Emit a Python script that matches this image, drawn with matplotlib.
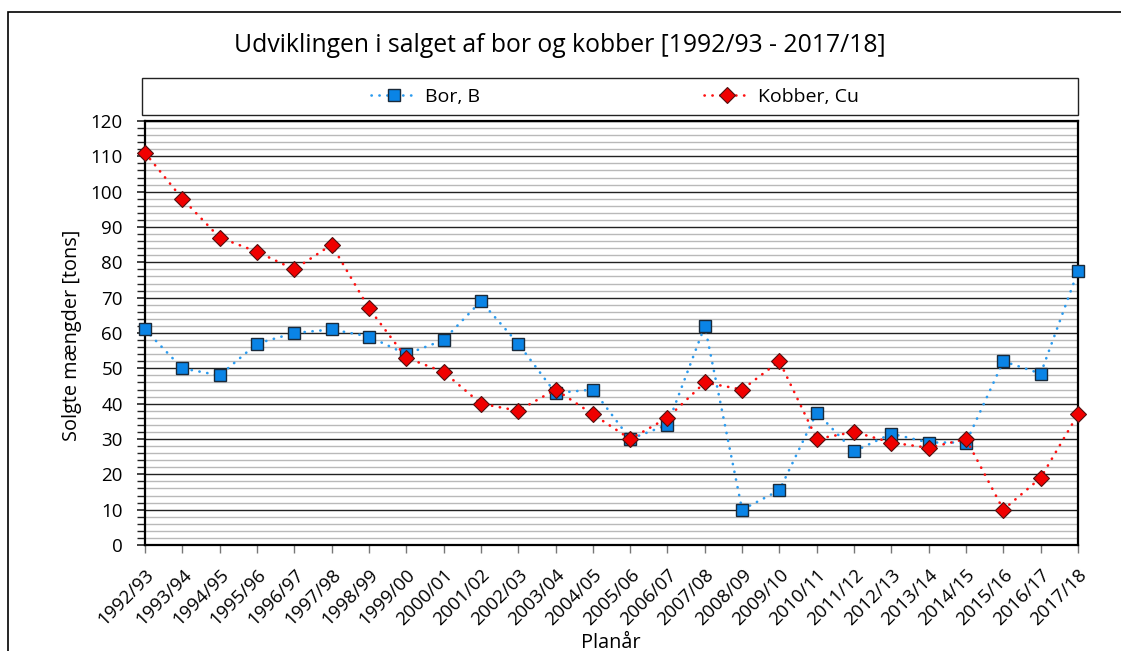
import matplotlib
matplotlib.use("Agg")
import matplotlib.pyplot as plt
from matplotlib.patches import Rectangle
from matplotlib.ticker import MultipleLocator

plt.rcParams['font.family'] = ['Open Sans', 'DejaVu Sans']

years = ["1992/93", "1993/94", "1994/95", "1995/96", "1996/97", "1997/98",
         "1998/99", "1999/00", "2000/01", "2001/02", "2002/03", "2003/04",
         "2004/05", "2005/06", "2006/07", "2007/08", "2008/09", "2009/10",
         "2010/11", "2011/12", "2012/13", "2013/14", "2014/15", "2015/16",
         "2016/17", "2017/18"]
bor = [61, 50, 48, 57, 60, 61, 59, 54, 58, 69, 57, 43, 44, 30, 34, 62,
       10, 15.5, 37.5, 26.5, 31.5, 29, 29, 52, 48.5, 77.5]
kobber = [111, 98, 87, 83, 78, 85, 67, 53, 49, 40, 38, 44, 37, 30, 36, 46,
          44, 52, 30, 32, 29, 27.5, 30, 10, 19, 37]

W, H = 1121, 651
fig = plt.figure(figsize=(W / 100, H / 100), dpi=100)
ax = fig.add_axes([145 / W, 1 - 545 / H, (1078 - 145) / W, (545 - 121) / H])

# outer border of the chart (runs off right and bottom edge)
fig.patches.append(Rectangle((7.5 / W, -0.1), 1.2, 1 - 12 / H + 0.1,
                             transform=fig.transFigure, fill=False,
                             edgecolor='black', linewidth=1.2))

x = list(range(len(years)))
dots = (0, (0.1, 2.9))
ax.plot(x, bor, color='#2b9bef', linestyle=dots, linewidth=1.9,
        dash_capstyle='round', marker='s', markersize=8.5,
        markerfacecolor='#0a84e6', markeredgecolor='#1a2a3a',
        markeredgewidth=1.0, label='Bor, B', clip_on=False, zorder=4)
ax.plot(x, kobber, color='#ff1010', linestyle=dots, linewidth=1.9,
        dash_capstyle='round', marker='D', markersize=8.5,
        markerfacecolor='#f00000', markeredgecolor='#501010',
        markeredgewidth=0.8, label='Kobber, Cu', clip_on=False, zorder=5)

ax.set_xlim(0, len(years) - 1)
ax.set_ylim(0, 120)
ax.yaxis.set_major_locator(MultipleLocator(10))
ax.yaxis.set_minor_locator(MultipleLocator(2))
ax.set_xticks(x)
ax.set_xticklabels(years, rotation=45, ha='right', va='top',
                   rotation_mode='anchor', fontsize=13.5)
ax.tick_params(axis='y', which='major', length=6, width=1.2, color='#222222',
               labelsize=13.5, pad=10)
ax.tick_params(axis='y', which='minor', length=6, width=1.0, color='#222222')
ax.tick_params(axis='x', which='major', length=6, width=1.0, color='#777777',
               pad=9)

ax.grid(True, which='minor', axis='y', color='#b9b9b9', linewidth=1.0)
ax.grid(True, which='major', axis='y', color='#222222', linewidth=1.0)
ax.set_axisbelow(True)
for side in ['left', 'bottom', 'right', 'top']:
    ax.spines[side].set_linewidth(1.6)
    ax.spines[side].set_color('black')

fig.text(72 / W, 1 - 335 / H, 'Solgte mængder [tons]', rotation=90,
         ha='center', va='center', fontsize=14.3)
# x axis title sits right at the bottom edge, as in the original
fig.text(611 / W, 1 - 648 / H, 'Planår', ha='center', va='baseline',
         fontsize=14.3)

fig.text(560 / W, 1 - 45 / H, 'Udviklingen i salget af bor og kobber [1992/93 - 2017/18]',
         ha='center', va='center', fontsize=17.8)

# legend box
fig.patches.append(Rectangle((142 / W, 1 - 115 / H), (1078 - 142) / W, 37 / H,
                             transform=fig.transFigure, fill=False,
                             edgecolor='#222222', linewidth=1.0))
fig.legend(loc='center', bbox_to_anchor=(615 / W, 1 - 97 / H), ncol=2,
           frameon=False, fontsize=14, handlelength=2.4, handletextpad=0.4,
           columnspacing=11.5, borderpad=0)

fig.savefig('out.png', dpi=100)
